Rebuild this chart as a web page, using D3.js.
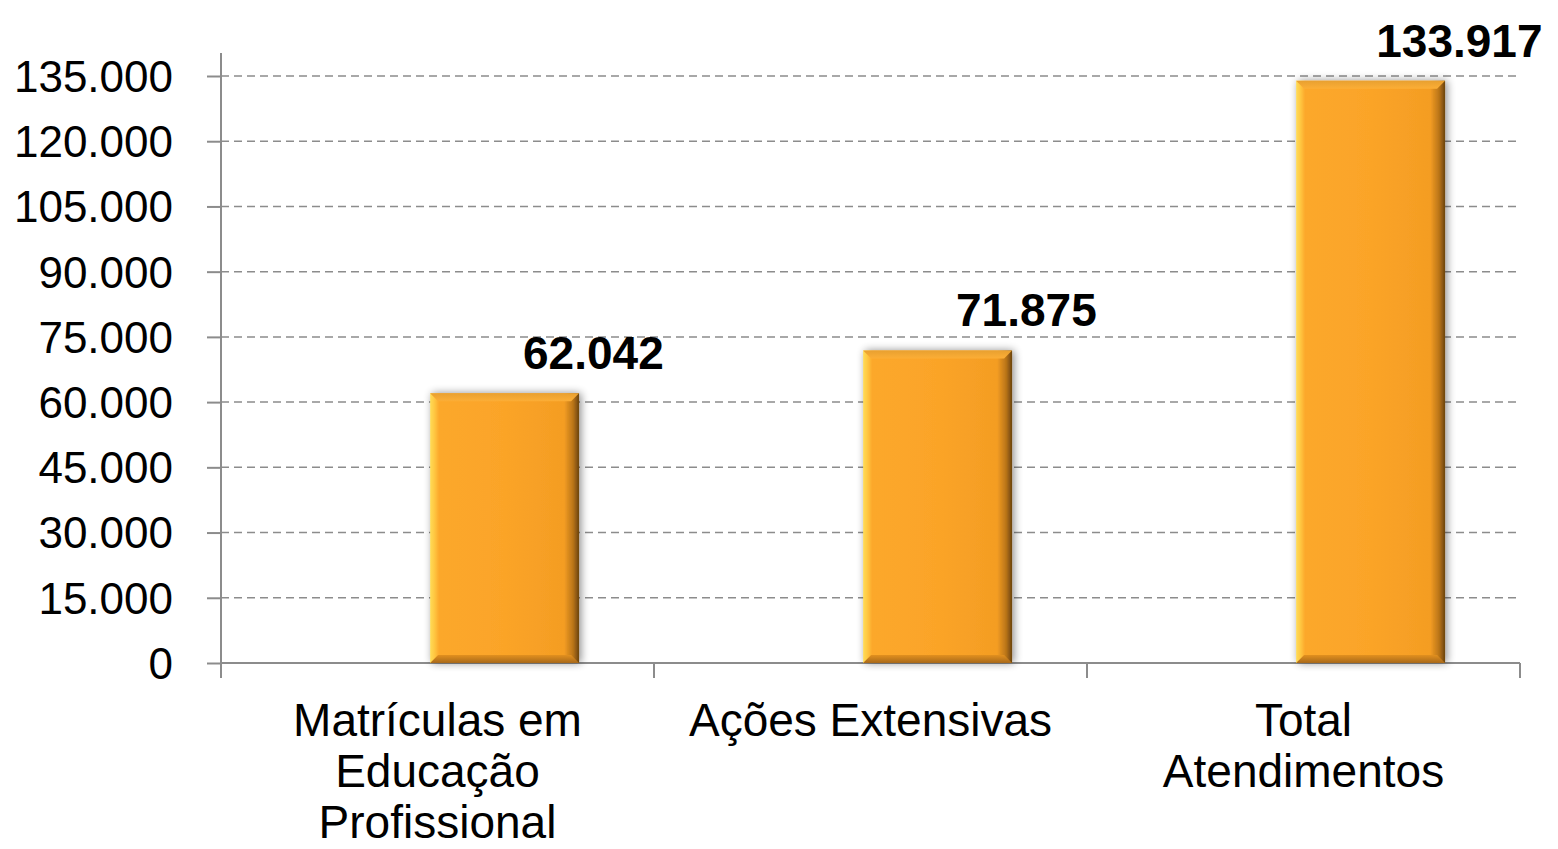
<!doctype html>
<html>
<head>
<meta charset="utf-8">
<style>
  body { margin: 0; background: #fff; }
  svg { display: block; font-family: Arial, "Liberation Sans", sans-serif; }
  .grid line { stroke: #8c8c8c; stroke-width: 1.5; stroke-dasharray: 8,5; }
  .axis path, .axis line { stroke: #8c8c8c; stroke-width: 2; }
  .tick-label { font-size: 44px; fill: #000; }
  .cat { font-size: 46px; fill: #000; }
  .val { font-size: 46px; font-weight: bold; fill: #000; }
</style>
<script src="https://d3js.org/d3.v7.min.js"></script>
</head>
<body>
<script>

  // data
  var categories = [["Matrículas em", "Educação", "Profissional"], ["Ações Extensivas"], ["Total", "Atendimentos"]];
  var values = [62042, 71875, 133917];
  var valueLabels = ["62.042", "71.875", "133.917"];
  var yTicks = [0, 15000, 30000, 45000, 60000, 75000, 90000, 105000, 120000, 135000];
  var yTickLabels = ["0", "15.000", "30.000", "45.000", "60.000", "75.000", "90.000", "105.000", "120.000", "135.000"];

  var svg_width = 1558;
  var svg_height = 849;
  var plotLeft = 221, plotRight = 1520, plotTop = 76, plotBottom = 663;

  var svg = d3.select("body").append("svg")
    .attr("width", svg_width)
    .attr("height", svg_height);

  var keys = categories.map(function(c, i) { return "c" + i; });

  var x = d3.scaleBand().domain(keys).range([plotLeft, plotRight]).padding(0);
  var y = d3.scaleLinear().domain([0, 135000]).range([plotBottom, plotTop]);
  var bw = x.bandwidth();

  // defs: gradients + shadow
  var defs = svg.append("defs");
  var hg = defs.append("linearGradient").attr("id", "barH").attr("x1", "0").attr("x2", "1").attr("y1", "0").attr("y2", "0");
  [[0, "#ffdc58"], [0.03, "#ffc640"], [0.06, "#fca82c"], [0.5, "#fba428"], [0.9, "#f49d23"], [0.96, "#b97418"], [1, "#6a430e"]]
    .forEach(function(s) { hg.append("stop").attr("offset", s[0]).attr("stop-color", s[1]); });

  var tg = defs.append("linearGradient").attr("id", "bevTop").attr("x1", "0").attr("x2", "0").attr("y1", "0").attr("y2", "1");
  tg.append("stop").attr("offset", 0).attr("stop-color", "#e8a030");
  tg.append("stop").attr("offset", 1).attr("stop-color", "#fcae36");

  var bg = defs.append("linearGradient").attr("id", "bevBot").attr("x1", "0").attr("x2", "0").attr("y1", "0").attr("y2", "1");
  bg.append("stop").attr("offset", 0).attr("stop-color", "#e2901e");
  bg.append("stop").attr("offset", 1).attr("stop-color", "#a8691a");

  var f = defs.append("filter").attr("id", "shadow").attr("x", "-20%").attr("y", "-20%").attr("width", "140%").attr("height", "140%");
  f.append("feGaussianBlur").attr("in", "SourceAlpha").attr("stdDeviation", 4);
  f.append("feOffset").attr("dx", 2).attr("dy", 0).attr("result", "ob");
  f.append("feComponentTransfer").append("feFuncA").attr("type", "linear").attr("slope", 0.45);
  var m = f.append("feMerge");
  m.append("feMergeNode");
  m.append("feMergeNode").attr("in", "SourceGraphic");

  // gridlines
  svg.append("g").attr("class", "grid")
    .selectAll("line")
    .data(yTicks.filter(function(t) { return t > 0; }))
    .enter().append("line")
    .attr("x1", plotLeft).attr("x2", plotRight)
    .attr("y1", function(d) { return y(d); })
    .attr("y2", function(d) { return y(d); });

  // y axis
  var yAxis = svg.append("g").attr("class", "axis")
    .attr("transform", "translate(" + plotLeft + ",0)")
    .call(d3.axisLeft(y).tickValues(yTicks).tickSize(14).tickSizeOuter(0).tickFormat(function(d, i) { return yTickLabels[i]; }));
  yAxis.select(".domain").remove();
  yAxis.append("line").attr("x1", 0).attr("x2", 0).attr("y1", plotTop - 23).attr("y2", plotBottom + 15);
  yAxis.selectAll(".tick text")
    .attr("class", "tick-label")
    .attr("x", -48)
    .attr("dy", "0.35em")
    .style("font-family", "Arial, 'Liberation Sans', sans-serif")
    .style("font-size", "44px")
    .attr("fill", "#000");

  // x axis
  var xAxis = svg.append("g").attr("class", "axis");
  xAxis.append("line").attr("x1", plotLeft).attr("x2", plotRight).attr("y1", plotBottom).attr("y2", plotBottom);
  var bounds = keys.map(function(k) { return x(k); }).concat([x(keys[keys.length - 1]) + bw]);
  xAxis.selectAll(".xt").data(bounds).enter().append("line")
    .attr("class", "xt")
    .attr("x1", function(d) { return d; }).attr("x2", function(d) { return d; })
    .attr("y1", plotBottom).attr("y2", plotBottom + 15);

  // bars
  var barX = function(i) { return x(keys[i]) + bw * 0.483; };
  var barW = bw * 0.344;
  var bev = 8;

  var bars = svg.selectAll(".bar").data(values).enter().append("g").attr("class", "bar");
  bars.append("rect")
    .attr("x", function(d, i) { return barX(i); })
    .attr("y", function(d) { return y(d); })
    .attr("width", barW)
    .attr("height", function(d) { return y(0) - y(d); })
    .attr("fill", "url(#barH)")
    .attr("filter", "url(#shadow)");
  bars.append("polygon")
    .attr("points", function(d, i) {
      var x0 = barX(i), x1 = x0 + barW, t = y(d);
      return [[x0, t], [x1, t], [x1 - bev, t + bev], [x0 + bev, t + bev]].join(" ");
    })
    .attr("fill", "url(#bevTop)");
  bars.append("polygon")
    .attr("points", function(d, i) {
      var x0 = barX(i), x1 = x0 + barW, b = y(0);
      return [[x0, b], [x1, b], [x1 - bev, b - bev], [x0 + bev, b - bev]].join(" ");
    })
    .attr("fill", "url(#bevBot)");

  // value labels
  svg.selectAll(".val").data(values).enter().append("text")
    .attr("class", "val")
    .attr("text-anchor", "middle")
    .attr("x", function(d, i) { return x(keys[i]) + bw * 0.86; })
    .attr("y", function(d) { return y(d) - 24; })
    .text(function(d, i) { return valueLabels[i]; });

  // category labels
  var cats = svg.selectAll(".cat").data(categories).enter().append("text")
    .attr("class", "cat")
    .attr("text-anchor", "middle")
    .attr("x", function(d, i) { return x(keys[i]) + bw / 2; })
    .attr("y", plotBottom + 73);
  cats.selectAll("tspan").data(function(d) { return d; }).enter().append("tspan")
    .attr("x", function() { return d3.select(this.parentNode).attr("x"); })
    .attr("dy", function(d, i) { return i === 0 ? 0 : 51; })
    .text(function(d) { return d; });

</script>
</body>
</html>
